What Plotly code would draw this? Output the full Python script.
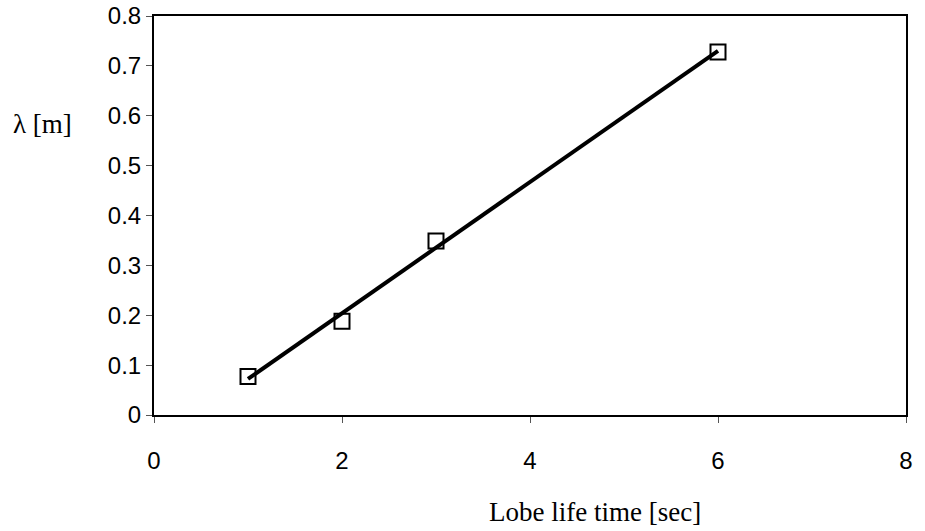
import numpy as np
import plotly.graph_objects as go

lifetime = [1, 2, 3, 6]
wavelength = [0.077, 0.188, 0.349, 0.728]
x_ticks = [0, 2, 4, 6, 8]
y_ticks = [0, 0.1, 0.2, 0.3, 0.4, 0.5, 0.6, 0.7, 0.8]
y_tick_text = ["0", "0.1", "0.2", "0.3", "0.4", "0.5", "0.6", "0.7", "0.8"]

slope, intercept = np.polyfit(lifetime, wavelength, 1)
fit_x = [min(lifetime), max(lifetime)]
fit_y = [slope * v + intercept for v in fit_x]

W, H = 925, 531
L, R, T, B = 154, 19, 16, 116

fig = go.Figure()
fig.add_trace(go.Scatter(x=fit_x, y=fit_y, mode="lines",
                         line=dict(color="black", width=4), showlegend=False))
fig.add_trace(go.Scatter(x=lifetime, y=wavelength, mode="markers",
                         marker=dict(symbol="square-open", size=15, color="black",
                                     line=dict(width=2)), showlegend=False))

pw = W - L - R
ph = H - T - B


def px_to_paper(px, py):
    return (px - L) / pw, (H - B - py) / ph


ax, ay = px_to_paper(595, 512)
lx, ly = px_to_paper(42, 124)

fig.update_layout(
    template="none",
    width=W, height=H,
    margin=dict(l=L, r=R, t=T, b=B, pad=0),
    paper_bgcolor="white", plot_bgcolor="white",
    font=dict(family="Liberation Sans, Arial", size=24, color="black"),
    xaxis=dict(range=[0, 8], tickvals=x_ticks, ticks="outside", ticklen=6,
               tickcolor="#555", showgrid=False, zeroline=False, automargin=False,
               showline=True, linecolor="black", linewidth=2, mirror=True,
               ticklabelstandoff=17, tickfont=dict(size=24)),
    yaxis=dict(range=[0, 0.8], tickvals=y_ticks, ticktext=y_tick_text,
               ticks="outside", ticklen=6, tickcolor="#555", automargin=False,
               showgrid=False, zeroline=False,
               showline=True, linecolor="black", linewidth=2, mirror=True,
               tickfont=dict(size=24)),
    annotations=[
        dict(text="Lobe life time [sec]", x=ax, y=ay, xref="paper", yref="paper",
             xanchor="center", yanchor="middle", showarrow=False,
             font=dict(family="Liberation Serif, Times New Roman", size=27)),
        dict(text="λ [m]", x=lx, y=ly, xref="paper", yref="paper",
             xanchor="center", yanchor="middle", showarrow=False,
             font=dict(family="Liberation Serif, Times New Roman", size=27)),
    ],
)

fig.write_html("out.html", config={"displayModeBar": False},
               post_script="document.body.style.margin='0';")
